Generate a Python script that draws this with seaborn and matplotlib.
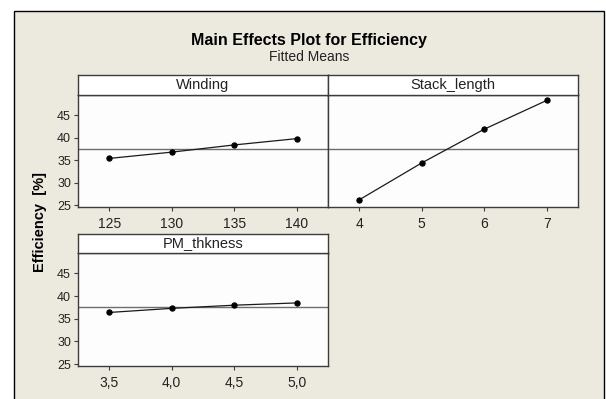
import matplotlib
matplotlib.use("Agg")
import matplotlib.pyplot as plt
from matplotlib.patches import Rectangle
import pandas as pd
import seaborn as sns

# Fitted means for each factor level
factors = ["Winding", "Stack_length", "PM_thkness"]
winding_levels = [125, 130, 135, 140]
winding_means = [35.4, 36.8, 38.4, 39.8]
stack_levels = [4, 5, 6, 7]
stack_means = [26.2, 34.4, 41.9, 48.3]
pm_levels = [3.5, 4.0, 4.5, 5.0]
pm_means = [36.4, 37.3, 38.0, 38.5]
pm_tick_labels = ["3,5", "4,0", "4,5", "5,0"]
y_ticks = [25, 30, 35, 40, 45]
grand_mean = 37.55

levels = [winding_levels, stack_levels, pm_levels]
means = [winding_means, stack_means, pm_means]
df = pd.DataFrame({
    "factor": [f for f, lv in zip(factors, levels) for _ in lv],
    "level": [x for lv in levels for x in lv],
    "mean": [y for mv in means for y in mv],
})

sns.set_theme(style="white")
plt.rcParams["font.family"] = ["Liberation Sans", "DejaVu Sans"]

BEIGE = "#ECE9DF"
LINE = "#1a1a1a"
REF = "#6e6e6e"
SPINE = "#3c3c3c"

g = sns.FacetGrid(df, col="factor", col_order=factors, col_wrap=2,
                  sharex=False, sharey=True, despine=False, height=2, aspect=1.5)
g.map_dataframe(sns.lineplot, x="level", y="mean", color=LINE, linewidth=0.9,
                marker="o", markersize=3.8, markeredgecolor="black",
                markerfacecolor="black", errorbar=None)
fig = g.figure
fig.set_size_inches(6.06, 3.99)
fig.set_dpi(100)
fig.patch.set_facecolor("white")

W, H = 606.0, 399.0

def box(x0, y0, x1, y1):
    return [x0 / W, 1 - y1 / H, (x1 - x0) / W, (y1 - y0) / H]

# outer frame of the graph window
fig.patches.append(Rectangle((14 / W, -0.05), (604 - 14) / W, 1.05 - 11 / H,
                             transform=fig.transFigure, facecolor=BEIGE,
                             edgecolor="black", linewidth=1.0, zorder=-10))

panel_boxes = [box(78, 95, 328, 207), box(328, 95, 578, 207), box(78, 253, 328, 366)]
strip_boxes = [box(78, 75, 328, 95), box(328, 75, 578, 95), box(78, 234, 328, 253)]
xlims = [(122.5, 142.5), (3.5, 7.5), (3.25, 5.25)]

for i, ax in enumerate(g.axes.flat):
    ax.set_position(panel_boxes[i])
    ax.set_facecolor("#FDFDFD")
    ax.set_title("")
    ax.set_xlabel("")
    ax.set_ylabel("")
    ax.set_xlim(*xlims[i])
    ax.set_ylim(24.6, 49.5)
    ax.set_yticks(y_ticks)
    ax.set_xticks(levels[i])
    if i == 2:
        ax.set_xticklabels(pm_tick_labels)
    else:
        ax.set_xticklabels([str(v) for v in levels[i]])
    ax.axhline(grand_mean, color=REF, linewidth=1.0, zorder=1)
    for s in ax.spines.values():
        s.set_color(SPINE)
        s.set_linewidth(1.0)
    ax.tick_params(axis="both", which="both", direction="out", length=3, width=0.8,
                   color=SPINE, labelsize=9, labelcolor="#222222", pad=2)
    ax.tick_params(axis="x", pad=4, labelsize=10)
    ax.tick_params(top=False, right=False, bottom=True)
    if i == 1:
        ax.tick_params(left=False, labelleft=False)
    else:
        ax.tick_params(left=True, labelleft=True)
        ax.set_yticklabels([str(t) for t in y_ticks])

    # strip header above each panel
    sax = fig.add_axes(strip_boxes[i])
    sax.set_facecolor("white")
    sax.set_xticks([])
    sax.set_yticks([])
    for s in sax.spines.values():
        s.set_color(SPINE)
        s.set_linewidth(1.0)
    sax.text(0.5, 0.5, factors[i], ha="center", va="center", fontsize=10.5,
             color="#222222", transform=sax.transAxes)

fig.text(309 / W, 1 - 41 / H, "Main Effects Plot for Efficiency", ha="center",
         va="center", fontsize=11.5, fontweight="bold", color="black")
fig.text(309 / W, 1 - 57 / H, "Fitted Means", ha="center", va="center",
         fontsize=10, color="#222222")
fig.text(40 / W, 1 - 222 / H, "Efficiency  [%]", ha="center", va="center",
         rotation=90, fontsize=10.5, fontweight="bold", color="black")

fig.savefig("out.png", dpi=100, facecolor=fig.get_facecolor())
